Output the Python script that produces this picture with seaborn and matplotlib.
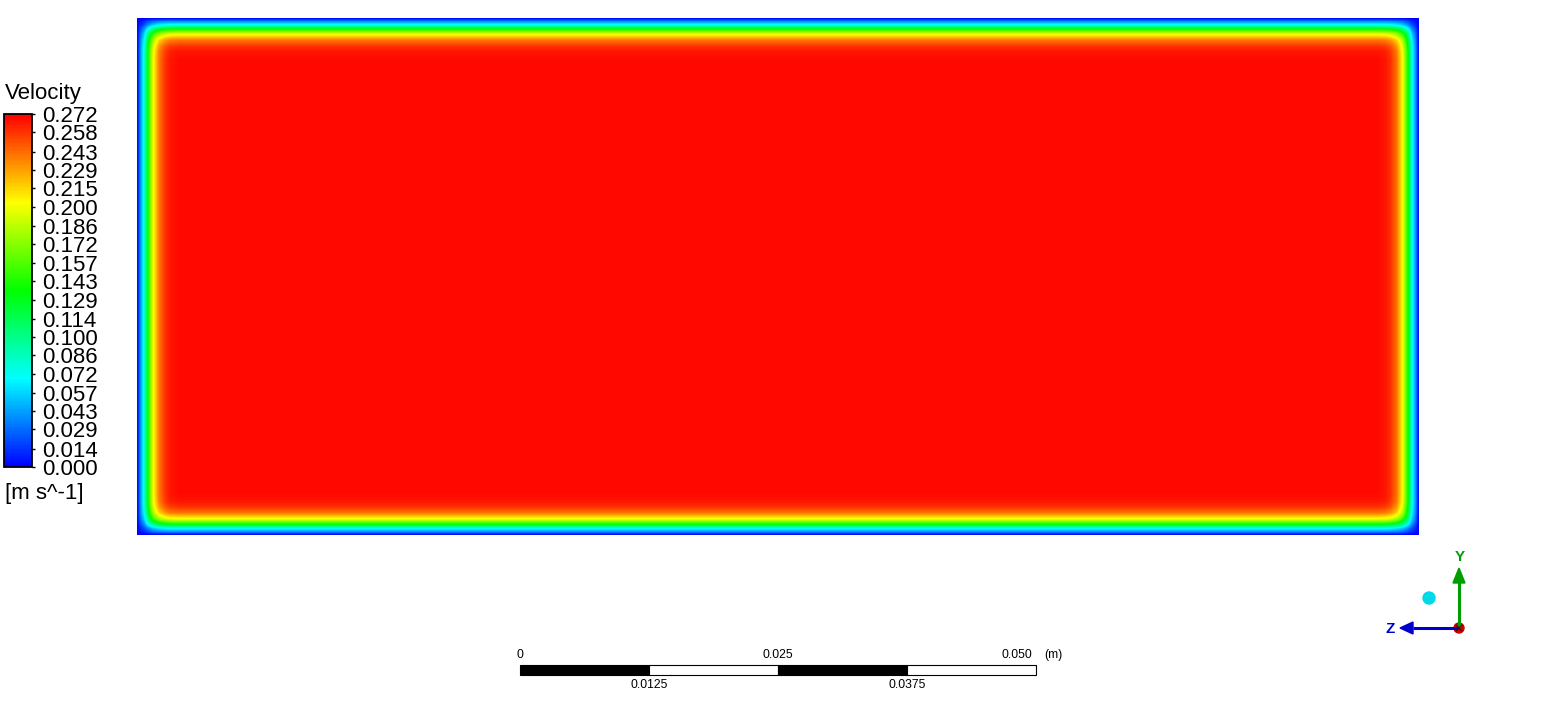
import numpy as np
import pandas as pd
import matplotlib
matplotlib.use("Agg")
import matplotlib.pyplot as plt
import seaborn as sns
from matplotlib.colors import LinearSegmentedColormap
from matplotlib.patches import Rectangle, Circle, Polygon

# ---------------- data ----------------
domain_width_m = 0.124
domain_height_m = 0.050
# near-wall velocity profile (distance from wall in mm, velocity m/s)
wall_distance_mm = [0.0, 0.10, 0.29, 0.68, 1.07, 1.55, 2.13, 2.71, 3.20, 4.00, 5.00]
wall_velocity = [0.000, 0.008, 0.035, 0.075, 0.140, 0.200, 0.240, 0.258, 0.266, 0.269, 0.269]
core_velocity = 0.269

legend_ticks = [0.000, 0.014, 0.029, 0.043, 0.057, 0.072, 0.086, 0.100, 0.114, 0.129,
                0.143, 0.157, 0.172, 0.186, 0.200, 0.215, 0.229, 0.243, 0.258, 0.272]
vmin, vmax = 0.0, 0.272
legend_title = "Velocity"
legend_unit = "[m s^-1]"

scale_ticks_m = [0.0, 0.0125, 0.025, 0.0375, 0.050]
scale_labels = ["0", "0.0125", "0.025", "0.0375", "0.050"]
scale_unit = "(m)"

# ---------------- field ----------------
nx, ny = 1282, 517
xc = (np.arange(nx) + 0.5) * domain_width_m / nx
yc = (np.arange(ny) + 0.5) * domain_height_m / ny
dx_mm = np.minimum(xc, domain_width_m - xc) * 1000
dy_mm = np.minimum(yc, domain_height_m - yc) * 1000
gx = np.interp(dx_mm, wall_distance_mm, wall_velocity) / core_velocity
gy = np.interp(dy_mm, wall_distance_mm, wall_velocity) / core_velocity
field = core_velocity * np.outer(gy, gx)
df = pd.DataFrame(field)

cmap = LinearSegmentedColormap.from_list(
    "ansys", [(0, 0, 1), (0, 1, 1), (0, 1, 0), (1, 1, 0), (1, 0, 0)])

# ---------------- figure ----------------
sns.set_style("white")
plt.rcParams["font.family"] = ["Liberation Sans", "DejaVu Sans"]
plt.rcParams["text.color"] = "black"

W, H = 1556, 710
fig = plt.figure(figsize=(W / 100, H / 100), dpi=100)
fig.patch.set_facecolor("white")

def px_axes(x0, y0, x1, y1):
    return fig.add_axes([x0 / W, 1 - y1 / H, (x1 - x0) / W, (y1 - y0) / H])

ax = px_axes(137, 18, 1419, 535)
cax = px_axes(4, 114, 32, 467)

sns.heatmap(df, ax=ax, cbar_ax=cax, cmap=cmap, vmin=vmin, vmax=vmax,
            xticklabels=False, yticklabels=False,
            cbar_kws={"ticks": legend_ticks}, rasterized=True)
ax.set_xlabel("")
ax.set_ylabel("")

cbar = ax.collections[0].colorbar
cbar.outline.set_edgecolor("black")
cbar.outline.set_linewidth(1.3)
cax.set_yticks(legend_ticks)
cax.set_yticklabels([f"{t:.3f}" for t in legend_ticks])
cax.tick_params(axis="y", length=2.5, width=1, direction="out", pad=4.5,
                labelsize=16, colors="black", right=True, left=False)

fig.text(5 / W, 1 - 93 / H, legend_title, fontsize=16, ha="left", va="center", color="black")
fig.text(5 / W, 1 - 493 / H, legend_unit, fontsize=16, ha="left", va="center", color="black")

# ---------------- scale bar ----------------
sax = px_axes(520, 665, 1036, 675)
sax.set_xlim(scale_ticks_m[0], scale_ticks_m[-1])
sax.set_ylim(0, 1)
sax.axis("off")
for i in range(len(scale_ticks_m) - 1):
    x0, x1 = scale_ticks_m[i], scale_ticks_m[i + 1]
    sax.add_patch(Rectangle((x0, 0), x1 - x0, 1,
                            facecolor="black" if i % 2 == 0 else "white",
                            edgecolor="black", linewidth=0.8, clip_on=False))
for i, (t, lab) in enumerate(zip(scale_ticks_m, scale_labels)):
    if i % 2 == 0:
        ha = "right" if i == len(scale_ticks_m) - 1 else "center"
        xx = t - 0.0004 if ha == "right" else t
        sax.text(xx, 2.0, lab, fontsize=8.7, ha=ha, va="center", clip_on=False, color="black")
    else:
        sax.text(t, -1.0, lab, fontsize=8.7, ha="center", va="center", clip_on=False, color="black")
sax.annotate(scale_unit, xy=(scale_ticks_m[-1], 2.0), xytext=(6, 0),
             textcoords="offset points", ha="left", va="center", fontsize=8.7,
             color="black", annotation_clip=False)

# ---------------- axis triad ----------------
tax = fig.add_axes([0, 0, 1, 1], zorder=5)
tax.set_xlim(0, W)
tax.set_ylim(H, 0)
tax.axis("off")
tax.patch.set_alpha(0)
green = (0.0, 0.62, 0.0)
blue = (0.0, 0.0, 0.8)
ox, oy = 1459, 628
tax.plot([ox, ox], [oy, 582], color=green, lw=2.2, solid_capstyle="butt")
tax.add_patch(Polygon([(ox - 6, 583), (ox + 6, 583), (ox, 568)], closed=True, color=green))
tax.text(ox + 1, 557, "Y", color=green, fontsize=11, ha="center", va="center", fontweight="bold")
tax.plot([ox, 1413], [oy, oy], color=blue, lw=2.2, solid_capstyle="butt")
tax.add_patch(Polygon([(1413, oy - 6), (1413, oy + 6), (1400, oy)], closed=True, color=blue))
tax.text(1390, oy + 1, "Z", color=blue, fontsize=11, ha="center", va="center", fontweight="bold")
tax.add_patch(Circle((ox, oy), 5, color=(0.8, 0.0, 0.0)))
tax.plot([ox - 3, ox + 3], [oy - 3, oy + 3], color=(0.35, 0, 0), lw=0.8)
tax.plot([ox - 3, ox + 3], [oy + 3, oy - 3], color=(0.35, 0, 0), lw=0.8)
tax.add_patch(Circle((1429, 598), 6, color=(0.0, 0.85, 0.9)))

fig.savefig("out.png", dpi=100, facecolor="white")
